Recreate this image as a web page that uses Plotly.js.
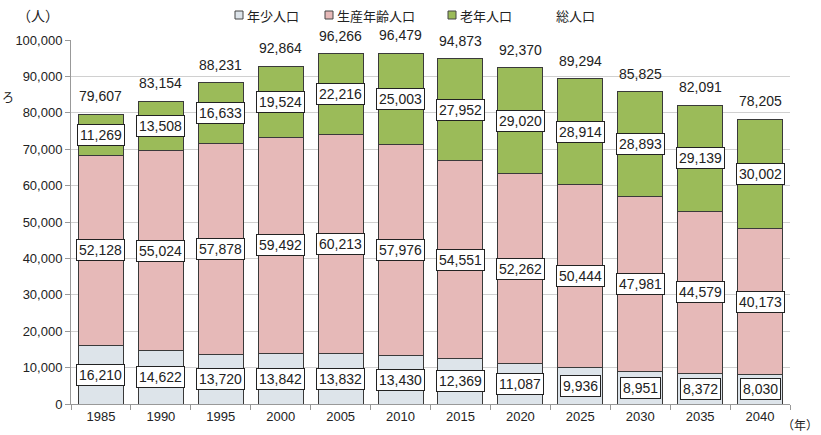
<!DOCTYPE html>
<html><head><meta charset="utf-8">
<script src="https://cdn.plot.ly/plotly-3.0.1.min.js"></script>
<style>html,body{margin:0;padding:0;background:#fff;}#chart{width:821px;height:435px;}</style>
</head><body><div id="chart"></div>
<script>
const years = ["1985","1990","1995","2000","2005","2010","2015","2020","2025","2030","2035","2040"];
const youngPop = [16210,14622,13720,13842,13832,13430,12369,11087,9936,8951,8372,8030];
const workingPop = [52128,55024,57878,59492,60213,57976,54551,52262,50444,47981,44579,40173];
const elderlyPop = [11269,13508,16633,19524,22216,25003,27952,29020,28914,28893,29139,30002];
const totalPop = [79607,83154,88231,92864,96266,96479,94873,92370,89294,85825,82091,78205];
const seriesNames = ["年少人口","生産年齢人口","老年人口","総人口"];
const colors = ["#dde4ea","#e6b9b8","#9bbb59"];

const numFont = "Liberation Sans, Arial, sans-serif";
const jpFont = "Noto Sans CJK JP, sans-serif";
const fmt = v => v.toLocaleString("en-US");

// pixel helpers for paper-referenced decorations (plot area: x 71..790, y 40..404)
const px2x = p => (p - 71) / 719;
const px2y = p => (404 - p) / 364;

const traces = [youngPop, workingPop, elderlyPop].map((vals, i) => ({
  type: "bar", x: years, y: vals, name: seriesNames[i],
  marker: {color: colors[i], line: {color: "#3a3a3a", width: 1}},
  showlegend: false, hoverinfo: "skip"
}));

const annotations = [];
years.forEach((yr, i) => {
  const mids = [
    youngPop[i] / 2,
    youngPop[i] + workingPop[i] / 2,
    youngPop[i] + workingPop[i] + elderlyPop[i] / 2
  ];
  const vals = [youngPop[i], workingPop[i], elderlyPop[i]];
  mids.forEach((m, k) => {
    annotations.push({
      x: i, y: m, xref: "x", yref: "y", text: fmt(vals[k]), showarrow: false,
      font: {family: numFont, size: 14, color: "#222"},
      bgcolor: "#ffffff", bordercolor: "#222", borderwidth: 1, borderpad: 2
    });
  });
  annotations.push({
    x: i, y: totalPop[i], xref: "x", yref: "y", text: fmt(totalPop[i]), showarrow: false,
    yanchor: "bottom", yshift: 8,
    font: {family: numFont, size: 14, color: "#222"}
  });
});

// axis unit labels
annotations.push({xref: "paper", yref: "paper", x: px2x(38), y: px2y(15), xanchor: "center", yanchor: "middle",
  text: "（人）", showarrow: false, font: {family: jpFont, size: 14, color: "#222"}});
annotations.push({xref: "paper", yref: "paper", x: px2x(800), y: px2y(424), xanchor: "center", yanchor: "middle",
  text: "（年）", showarrow: false, font: {family: jpFont, size: 12, color: "#222"}});
annotations.push({xref: "paper", yref: "paper", x: px2x(0), y: px2y(96), xanchor: "left", yanchor: "middle",
  text: "ろ", showarrow: false, font: {family: jpFont, size: 12, color: "#222"}});

// manual legend
const legendX = [245, 335, 458, 554];
const shapes = [];
seriesNames.forEach((nm, i) => {
  annotations.push({xref: "paper", yref: "paper", x: px2x(legendX[i]), y: px2y(15),
    xanchor: "left", yanchor: "middle", text: nm, showarrow: false,
    font: {family: jpFont, size: 13, color: "#222"}});
  if (i < 3) {
    const p = legendX[i] - 10;
    shapes.push({type: "rect", xref: "paper", yref: "paper",
      x0: px2x(p), x1: px2x(p + 8), y0: px2y(19), y1: px2y(11),
      fillcolor: colors[i], line: {color: "#444", width: 1}});
  }
});

const layout = {
  width: 821, height: 435,
  margin: {l: 71, r: 31, t: 40, b: 31},
  barmode: "stack", bargap: 0.25,
  paper_bgcolor: "#fff", plot_bgcolor: "#fff",
  xaxis: {type: "category", tickson: "boundaries", ticks: "outside", ticklen: 5, tickcolor: "#999",
    showline: true, linecolor: "#999", linewidth: 1, showgrid: false, range: [-0.5, 11.5],
    tickfont: {family: numFont, size: 13, color: "#222"}, fixedrange: true},
  yaxis: {range: [0, 100000], dtick: 10000, tickformat: ",d", ticks: "outside", ticklen: 5, tickcolor: "#999",
    showline: true, linecolor: "#999", linewidth: 1, gridcolor: "#d0d0d0", zeroline: false,
    tickfont: {family: numFont, size: 13, color: "#222"}, fixedrange: true},
  annotations: annotations, shapes: shapes, showlegend: false
};

Plotly.newPlot("chart", traces, layout, {staticPlot: true});
</script></body></html>
